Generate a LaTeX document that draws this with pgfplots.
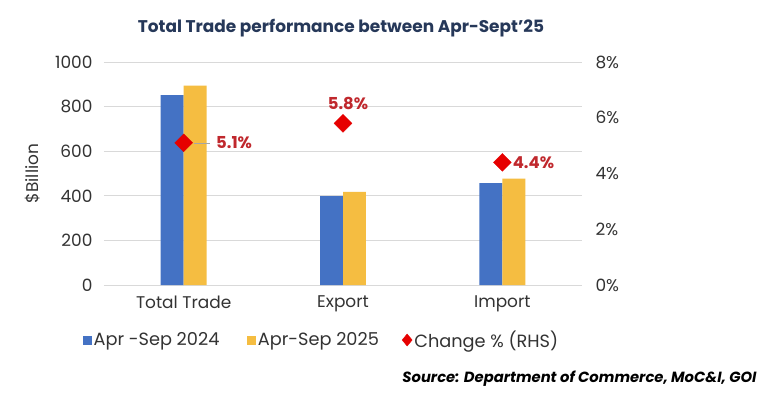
\documentclass[border=0pt]{standalone}
\usepackage{pgfplots}
\pgfplotsset{compat=1.18}
\usepackage{fontspec}
\setmainfont{Poppins}
\definecolor{barblue}{HTML}{4472C4}
\definecolor{baryellow}{HTML}{F5BD41}
\definecolor{dred}{HTML}{E60000}
\definecolor{lblred}{HTML}{C0282D}
\definecolor{titleblue}{HTML}{263859}
\definecolor{txt}{HTML}{333333}
\definecolor{gridc}{HTML}{D9D9D9}
\pgfplotsset{
  common/.style={
    at={(0bp,0bp)}, anchor=south west,
    width=478bp, height=223bp, scale only axis,
    xmin=-0.5, xmax=2.5,
    axis line style={draw=none}, tick style={draw=none},
    /pgf/number format/assume math mode=true,
    /pgf/number format/1000 sep={},
    tick label style={font=\fontsize{17}{20}\selectfont, text=txt},
  }
}
\newcommand{\lf}{\fontsize{17.8}{20}\selectfont}
\begin{document}
\begin{tikzpicture}[x=1bp,y=1bp]
\useasboundingbox (-104,-114) rectangle (680,285);
\fill[white] (-104,-114) rectangle (680,285);
\begin{axis}[common,
  ymin=0, ymax=1000, ytick={0,200,...,1000},
  xtick={0,1,2}, xticklabels={Total Trade, Export, Import},
  xticklabel style={yshift=-3bp},
  ymajorgrids, grid style={gridc, line width=0.8bp},
  ybar=0pt, bar width=0.144,
  yticklabel style={xshift=-8bp},
  ylabel={\$Billion},
  every axis y label/.style={at={(axis description cs:0,0.5)}, xshift=-71bp, rotate=90, anchor=center, font=\fontsize{17}{20}\selectfont, text=txt},
]
\addplot[fill=barblue, draw=none] coordinates {(0,852) (1,399) (2,457)};
\addplot[fill=baryellow, draw=none] coordinates {(0,894) (1,418) (2,477)};
\end{axis}
\begin{axis}[common,
  ymin=0, ymax=8, ytick={0,2,...,8},
  axis y line*=right, axis x line=none,
  yticklabel={\pgfmathprintnumber{\tick}\%},
  yticklabel style={anchor=west, xshift=10bp},
  legend columns=3,
  legend style={at={(axis description cs:0,0)}, anchor=west, xshift=-24bp, yshift=-55bp,
    draw=none, fill=none, text=txt},
]
\addlegendimage{legend image code/.code={\fill[barblue] (0bp,-4bp) rectangle (8bp,4bp);}}
\addlegendentry{\lf Apr -Sep 2024\hspace{26bp}\null}
\addlegendimage{legend image code/.code={\fill[baryellow] (0bp,-4bp) rectangle (8bp,4bp);}}
\addlegendentry{\lf Apr-Sep 2025\hspace{21bp}\null}
\addlegendimage{legend image code/.code={\fill[dred] (5bp,-6bp) -- (10bp,0bp) -- (5bp,6bp) -- (0bp,0bp) -- cycle;}}
\addlegendentry{\lf Change \% (RHS)}
\addplot[forget plot, only marks, mark=square*, mark size=6.3bp,
  mark options={rotate=45, fill=dred, draw=dred}] coordinates {(0,5.1) (1,5.8) (2,4.4)};
\draw[gray!70, line width=0.6bp] ([xshift=10bp]axis cs:0,5.1) -- ([xshift=26bp]axis cs:0,5.1);
\node[anchor=west, font=\fontsize{16.5}{19}\selectfont\bfseries, text=lblred, xshift=29bp] at (axis cs:0,5.1) {5.1\%};
\node[font=\fontsize{16.5}{19}\selectfont\bfseries, text=lblred, xshift=5bp, yshift=20bp] at (axis cs:1,5.8) {5.8\%};
\node[anchor=west, font=\fontsize{16.5}{19}\selectfont\bfseries, text=lblred, xshift=7bp] at (axis cs:2,4.4) {4.4\%};
\end{axis}
\node[font=\fontsize{17}{20}\selectfont\bfseries, text=titleblue] at (237,257) {Total Trade performance between Apr-Sept'25};
\node[anchor=east, font=\fontsize{14.8}{17}\selectfont\bfseries\itshape, text=black] at (656,-94) {Source: Department of Commerce, MoC\&I, GOI};
\end{tikzpicture}
\end{document}
